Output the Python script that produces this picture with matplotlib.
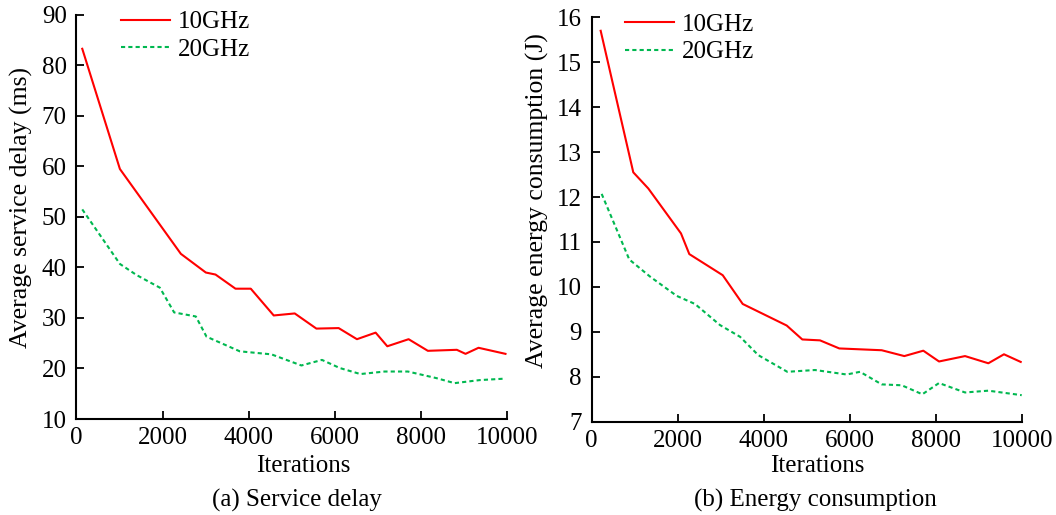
import matplotlib
matplotlib.use("Agg")
import matplotlib.pyplot as plt

plt.rcParams['font.family'] = ['Liberation Serif', 'DejaVu Serif']
plt.rcParams['mathtext.fontset'] = 'stix'

# ---- data: (a) service delay ----
delay_10_x = [135, 1009, 2425, 3005, 3230, 3694, 4049, 4582, 5070, 5573, 6090,
              6515, 6949, 7220, 7715, 8162, 8835, 9037, 9339, 9965]
delay_10_y = [83.3, 59.5, 42.7, 39.0, 38.6, 35.8, 35.8, 30.5, 30.9, 27.9, 28.0,
              25.8, 27.1, 24.4, 25.8, 23.5, 23.7, 22.9, 24.1, 22.9]
delay_20_x = [135, 1009, 1397, 1937, 2269, 2773, 3021, 3794, 4529, 5225, 5703,
              6114, 6594, 7158, 7698, 8357, 8782, 9362, 9965]
delay_20_y = [51.5, 40.7, 38.5, 36.0, 31.1, 30.3, 26.3, 23.4, 22.8, 20.6, 21.7,
              20.1, 18.9, 19.4, 19.4, 18.1, 17.1, 17.7, 18.0]

# ---- data: (b) energy consumption ----
energy_10_x = [209, 966, 1315, 2074, 2267, 3043, 3507, 4529, 4891, 5302, 5750,
               6735, 7260, 7701, 8066, 8670, 9211, 9574, 9963]
energy_10_y = [15.70, 12.55, 12.19, 11.19, 10.73, 10.26, 9.62, 9.14, 8.83, 8.81,
               8.63, 8.59, 8.46, 8.58, 8.34, 8.46, 8.30, 8.50, 8.33]
energy_20_x = [232, 873, 1354, 1974, 2399, 2980, 3445, 3870, 4543, 5186, 5922,
               6231, 6735, 7200, 7678, 8066, 8670, 9211, 9986]
energy_20_y = [12.07, 10.61, 10.23, 9.80, 9.62, 9.15, 8.89, 8.48, 8.11, 8.15,
               8.05, 8.11, 7.83, 7.81, 7.61, 7.86, 7.65, 7.69, 7.59]

series_labels = ['10GHz', '20GHz']
x_ticks = [0, 2000, 4000, 6000, 8000, 10000]
delay_ticks = [10, 20, 30, 40, 50, 60, 70, 80, 90]
energy_ticks = [7, 8, 9, 10, 11, 12, 13, 14, 15, 16]

RED = '#ff0000'
GREEN = '#00b850'
FS = 18

fig = plt.figure(figsize=(10.56, 5.15), dpi=100)
ax1 = fig.add_axes([0.0724, 0.1864, 0.4077, 0.7846])
ax2 = fig.add_axes([0.5603, 0.1812, 0.4078, 0.7852])


def style(ax, yticks, ylabel, ylab_xy, xlab_xy, leg_xy, caption, cap_x):
    ax.set_xlim(0, 10000)
    ax.set_ylim(yticks[0], yticks[-1])
    ax.set_xticks(x_ticks)
    ax.set_yticks(yticks)
    for s in ['top', 'right']:
        ax.spines[s].set_visible(False)
    for s in ['left', 'bottom']:
        ax.spines[s].set_linewidth(1.5)
    ax.tick_params(direction='in', length=6, width=1.3, labelsize=FS)
    ax.tick_params(axis='x', pad=6)
    ax.tick_params(axis='y', pad=7)
    yl = ax.set_ylabel(ylabel, fontsize=18.5)
    ax.yaxis.set_label_coords(*ylab_xy)
    yl.set_verticalalignment('center')
    xl = ax.set_xlabel('Iterations', fontsize=FS)
    ax.xaxis.set_label_coords(*xlab_xy)
    xl.set_verticalalignment('center')
    ax.legend(loc='upper left', bbox_to_anchor=leg_xy, frameon=False,
              fontsize=FS, handlelength=1.95, handletextpad=0.33,
              labelspacing=0.2, borderpad=0, borderaxespad=0)
    fig.text(cap_x, 1 - 500 / 515, caption, ha='center', va='center', fontsize=FS)


ax1.plot(delay_10_x, delay_10_y, color=RED, lw=1.5, ls='-', label=series_labels[0])
ax1.plot(delay_20_x, delay_20_y, color=GREEN, lw=1.5, ls=(0, (2, 1.5)), label=series_labels[1])
style(ax1, delay_ticks, 'Average service delay (ms)', (-0.127, 0.523), (0.526, -0.116),
      (0.103, 1.01), '(a) Service delay', 297 / 1056)

ax2.plot(energy_10_x, energy_10_y, color=RED, lw=1.5, ls='-', label=series_labels[0])
ax2.plot(energy_20_x, energy_20_y, color=GREEN, lw=1.5, ls=(0, (2, 1.5)), label=series_labels[1])
style(ax2, energy_ticks, 'Average energy consumption (J)', (-0.125, 0.548), (0.523, -0.11),
      (0.077, 1.01), '(b) Energy consumption', 815 / 1056)

fig.savefig('out.png', dpi=100)
